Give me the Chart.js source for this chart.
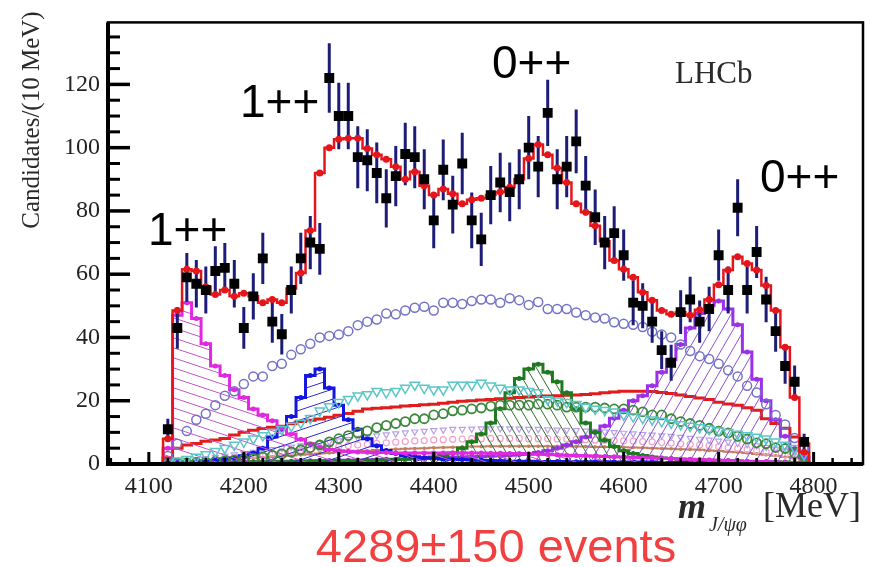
<!DOCTYPE html>
<html>
<head>
<meta charset="utf-8">
<script src="https://cdn.jsdelivr.net/npm/chart.js@4/dist/chart.umd.min.js"></script>
<style>
  html, body { margin: 0; padding: 0; background: #fff; }
  canvas { display: block; }
</style>
</head>
<body>
<canvas id="jpsiphi" width="871" height="567"></canvas>
<script>
// bin centres, 10 MeV bins
const mass = [4120,4130,4140,4150,4160,4170,4180,4190,4200,4210,
  4220,4230,4240,4250,4260,4270,4280,4290,4300,4310,
  4320,4330,4340,4350,4360,4370,4380,4390,4400,4410,
  4420,4430,4440,4450,4460,4470,4480,4490,4500,4510,
  4520,4530,4540,4550,4560,4570,4580,4590,4600,4610,
  4620,4630,4640,4650,4660,4670,4680,4690,4700,4710,
  4720,4730,4740,4750,4760,4770,4780,4790];

const counts = [11,43,59,57,55,61,62,57,43,53,
  65,45,41,55,65,70,68,122,110,110,
  97,96,92,84,91,98,97,90,77,93,
  82,95,77,71,85,89,86,90,100,94,
  111,90,94,102,88,78,70,73,66,51,
  50,45,36,32,48,52,45,49,66,55,
  81,55,67,52,42,31,26,7];

const errs = [3.3,6.6,7.7,7.5,7.4,7.8,7.9,7.5,6.6,7.3,
  8.1,6.7,6.4,7.4,8.1,8.4,8.2,11.0,10.5,10.5,
  9.8,9.8,9.6,9.2,9.5,9.9,9.8,9.5,8.8,9.6,
  9.1,9.7,8.8,8.4,9.2,9.4,9.3,9.5,10.0,9.7,
  10.5,9.5,9.7,10.1,9.4,8.8,8.4,8.5,8.1,7.1,
  7.1,6.7,6.0,5.7,6.9,7.2,6.7,7.0,8.1,7.4,
  9.0,7.4,8.2,7.2,6.5,5.6,5.1,2.6];

const totalFit = [8,48.5,61.6,61,56,53.6,55,53,54,53,
  51,52,51,55.5,60.4,73.8,92,100,102.7,103,
  103,99.7,97.8,96.3,94,90,92.4,88,85,86.9,
  85.4,82.3,83.5,84,85,86,87.5,90,96.6,101,
  97.8,93.6,89,82.3,79.6,75.3,70.4,64.3,61.6,59,
  54.3,51.8,48.5,47.3,48,47,48.8,52,56.7,61.3,
  65.5,63.4,61.3,56.4,48.5,36.9,21,3.7];

// X(4140) 1++
const x4140 = [5,47,51,46,38,31,28,23.5,21,17.4,
  15.5,13.7,11.3,9.5,7.8,6.4,5.3,4.6,4.2,4.0,
  3.8,3.7,3.6,3.6,3.5,3.5,3.5,3.5,3.5,3.5,
  3.5,3.5,3.5,3.5,3.4,3.4,3.3,3.3,3.2,3.1,
  3.0,2.9,2.8,2.7,2.6,2.5,2.4,2.3,2.2,2.1,
  2.0,1.9,1.8,1.7,1.6,1.5,1.4,1.3,1.2,1.1,
  1.0,0.9,0.8,0.7,0.6,0.5,0.4,0.3];

// X(4274) 1++
const x4274 = [0.3,0.4,0.5,0.7,0.9,1.2,1.6,2.0,2.6,3.5,
  5.0,8.5,11,15,21,28,30,24,18.6,14,
  11,8,5.8,4.3,3.3,2.7,2.3,2.0,1.8,1.6,
  1.5,1.4,1.3,1.2,1.1,1.0,0.9,0.9,0.9,0.8,
  0.8,0.8,0.8,0.7,0.7,0.7,0.7,0.6,0.6,0.6,
  0.6,0.6,0.5,0.5,0.5,0.5,0.5,0.5,0.4,0.4,
  0.4,0.4,0.4,0.4,0.3,0.3,0.3,0.3];

// X(4500) 0++
const x4500 = [0.3,0.3,0.3,0.4,0.4,0.4,0.5,0.5,0.5,0.6,
  0.6,0.6,0.7,0.7,0.7,0.8,0.8,0.9,0.9,1.0,
  1.0,1.1,1.2,1.3,1.4,1.5,1.7,1.9,2.2,2.8,
  3.5,5,7,9.5,13,17.5,22.5,27,30,31.5,
  29,26,22.5,17.5,13,10,7.5,5.5,4.2,3.3,
  2.7,2.2,1.9,1.7,1.5,1.4,1.3,1.2,1.1,1.0,
  0.9,0.8,0.8,0.7,0.6,0.6,0.5,0.4];

// X(4700) 0++
const x4700 = [0.3,0.3,0.4,0.4,0.5,0.5,0.6,0.6,0.7,0.7,
  0.8,0.8,0.9,0.9,1.0,1.0,1.1,1.1,1.2,1.2,
  1.3,1.3,1.4,1.5,1.5,1.6,1.7,1.8,1.9,2.0,
  2.1,2.2,2.3,2.4,2.5,2.6,2.8,3.0,3.2,3.6,
  4.2,5,6,7,8.5,10,12,14.5,17,20,
  21.6,24.7,29,33,37.8,43,47.6,50,51.5,49,
  44,35.4,26.8,20,14,8.8,4.9,2];

// non-resonant (open circles)
const nonRes = [2.5,6.4,10.4,14,15.9,18.6,21.6,23,25.3,27.7,
  27.7,31,31.7,34.5,36.3,38,40,40.5,40.9,42,
  43.9,45,45.7,47.6,47.3,48.5,49.4,49.7,48.5,51,
  51,50.6,51.5,52,52,51,52.4,51.8,50.3,51.2,
  49,49,49,47.9,47,46.3,46,44.8,44.3,44,
  43.3,41.8,40.9,40,37.8,35.7,34.1,33.2,31.7,29.6,
  27.7,24.7,22.6,18.9,15.5,12.5,8.2,4.9];

// open triangles
const triCyan = [0.5,1,1.5,2.2,3,4,5,6,7,8,
  9,10,11,12,13,14.5,16.8,18.2,19.5,20.5,
  21.6,22,23,22.6,23,24,25,24,23.5,23.5,
  25,25,25,25.6,24.7,24,23.5,23.5,23,22.6,
  20.4,20,19.5,18.9,18,17.4,17,16.5,15.5,15,
  14.5,14,13.5,13,12.5,12,11.5,11,10.5,10,
  9.5,9,8.5,8,7,6,5,3];

// smooth red component
const redComp = [2,5,6,6.5,7.2,7.6,8.1,9.2,10,10.7,
  11.2,11.6,11.9,12.7,13.4,13.8,14.2,14.8,15.4,16,
  16.7,17.4,17.6,17.8,18,18.3,18.5,18.7,18.9,19.2,
  19.5,19.8,20,20.2,20.4,20.6,20.8,21,21.2,21.3,
  21.5,21.6,21.7,21.8,22,22.2,22.5,22.8,23,23,
  23,22.9,22.6,22.3,21.8,21.3,20.9,20.4,19.5,19,
  18.6,17.8,17,14.3,12.8,11.3,8.5,6.4];

// green open circles
const greenCirc = [0.2,0.3,0.4,0.5,0.6,0.8,1,1.2,1.5,1.8,
  2.2,2.7,3.2,3.8,4.5,5.2,6,7,8,9,
  9.8,10.5,11.5,12.2,12.8,13.4,14.3,14.3,15.5,15.9,
  16.8,17,17.4,17.7,18.3,18.6,18.6,18.6,18.6,18.9,
  18.9,18.6,18,18,18,18,17.7,17.4,17.4,17,
  16.5,15.5,15.5,14.3,13.4,12.8,12.2,11.3,10.4,9.8,
  8.8,7.9,6.7,6.4,5.2,4.9,3.4,2.5];

// small components near the baseline
const lavTri = [0.3,0.6,1,1.4,1.8,2.2,2.6,3,3.4,3.8,
  4.2,4.6,5,5.4,5.8,6.2,6.6,7,7.4,7.8,
  8.2,8.6,9,9.3,9.6,9.9,10.2,10.4,10.6,10.8,
  11,11,11.1,11.2,11.2,11.2,11.2,11.1,11,11,
  10.9,10.8,10.7,10.6,10.5,10.4,10.2,10,9.8,9.6,
  9.4,9.2,9,8.8,8.5,8.2,7.9,7.6,7.3,7,
  6.6,6.2,5.8,5.3,4.8,4.2,3.5,2.5];

const pinkCirc = [0.2,0.4,0.7,1,1.3,1.6,1.9,2.2,2.5,2.8,
  3.1,3.4,3.7,4,4.3,4.6,4.9,5.2,5.5,5.8,
  6,6.2,6.5,6.7,6.9,7.1,7.3,7.4,7.6,7.7,
  7.8,7.9,8,8,8.1,8.1,8.1,8.1,8,8,
  8,7.9,7.9,7.8,7.7,7.6,7.5,7.4,7.3,7.2,
  7.1,7,6.8,6.6,6.4,6.2,6,5.8,5.5,5.2,
  4.9,4.6,4.2,3.8,3.4,2.9,2.3,1.5];

const brownComp = [0.2,0.3,0.5,0.7,0.9,1.1,1.3,1.5,1.7,1.9,
  2.1,2.3,2.5,2.7,2.9,3.1,3.3,3.5,3.7,3.9,
  4,4.2,4.4,4.5,4.7,4.8,4.9,5,5.1,5.2,
  5.3,5.4,5.5,5.5,5.6,5.6,5.6,5.6,5.6,5.6,
  5.6,5.6,5.5,5.5,5.5,5.4,5.4,5.3,5.3,5.2,
  5.1,5,4.9,4.8,4.7,4.6,4.5,4.3,4.1,3.9,
  3.7,3.5,3.2,2.9,2.6,2.2,1.8,1.2];

const xTicks = [4100, 4200, 4300, 4400, 4500, 4600, 4700, 4800];
const yTicks = [0, 20, 40, 60, 80, 100, 120];
const X_MIN = 4057, X_MAX = 4852, Y_MAX = 139.6;
const EDGE_LO = 4110, EDGE_HI = 4800;

const canvas = document.getElementById('jpsiphi');
const mainCtx = canvas.getContext('2d');

// diagonal line hatching; w = horizontal spacing, h = vertical spacing
function hatch(color, w, h, up) {
  const c = document.createElement('canvas');
  c.width = w; c.height = h;
  const g = c.getContext('2d');
  g.strokeStyle = color;
  g.lineWidth = 1;
  for (const off of [-h, 0, h]) {
    g.beginPath();
    if (up) { g.moveTo(-1, off + h + h / w); g.lineTo(w + 1, off - h / w); }
    else { g.moveTo(-1, off - h / w); g.lineTo(w + 1, off + h + h / w); }
    g.stroke();
  }
  return mainCtx.createPattern(c, 'repeat');
}

function pts(vals) {
  return mass.map((m, i) => ({ x: m, y: vals[i] }));
}
function hist(vals) {
  return [{ x: EDGE_LO, y: 0 }, ...pts(vals), { x: EDGE_HI, y: 0 }];
}
const last = mass.length + 1;
const edgeRadius = r => (c => (c.dataIndex === 0 || c.dataIndex === last) ? 0 : r);

function histSet(vals, color, width, r, fillPattern) {
  return {
    data: hist(vals),
    borderColor: color,
    borderWidth: width,
    stepped: 'middle',
    fill: fillPattern ? 'origin' : false,
    backgroundColor: fillPattern || 'transparent',
    pointRadius: edgeRadius(r),
    pointBackgroundColor: color,
    pointBorderWidth: 0
  };
}
function markerSet(vals, color, style, r, rot, bw) {
  return {
    data: pts(vals),
    showLine: false,
    pointStyle: style,
    pointRadius: r,
    pointRotation: rot,
    pointBorderColor: color,
    pointBackgroundColor: 'transparent',
    pointBorderWidth: bw
  };
}

const errorBars = {
  id: 'errorBars',
  beforeDatasetDraw(chart, args) {
    if (args.index !== 1) return;
    const { ctx, chartArea: a, scales: { x, y } } = chart;
    ctx.save();
    ctx.beginPath();
    ctx.rect(a.left, a.top, a.width, a.height);
    ctx.clip();
    ctx.strokeStyle = '#1d1d78';
    ctx.lineWidth = 3;
    mass.forEach((m, i) => {
      const px = x.getPixelForValue(m);
      ctx.beginPath();
      ctx.moveTo(px, y.getPixelForValue(counts[i] - errs[i]));
      ctx.lineTo(px, y.getPixelForValue(counts[i] + errs[i]));
      ctx.stroke();
    });
    ctx.restore();
  }
};

const frame = {
  id: 'frame',
  afterDraw(chart) {
    const { ctx, chartArea: a, scales: { x, y } } = chart;
    ctx.save();
    ctx.strokeStyle = '#000';
    for (let v = 0; v <= Y_MAX; v += 5) {
      const py = y.getPixelForValue(v);
      const major = v % 20 === 0;
      ctx.lineWidth = major ? 3.5 : 3;
      ctx.beginPath();
      ctx.moveTo(a.left, py);
      ctx.lineTo(a.left + (major ? 22 : 12), py);
      ctx.stroke();
    }
    for (let v = 4060; v <= X_MAX; v += 20) {
      const px = x.getPixelForValue(v);
      const major = v % 100 === 0;
      ctx.lineWidth = major ? 3 : 2.5;
      ctx.beginPath();
      ctx.moveTo(px, a.bottom);
      ctx.lineTo(px, a.bottom - (major ? 12 : 6));
      ctx.stroke();
    }
    ctx.lineWidth = 2.5;
    ctx.strokeRect(a.left, a.top, a.right - a.left, a.bottom - a.top);
    ctx.lineWidth = 4;
    ctx.beginPath();
    ctx.moveTo(a.left, a.top);
    ctx.lineTo(a.left, a.bottom);
    ctx.lineTo(a.right, a.bottom);
    ctx.stroke();

    // axis titles
    ctx.fillStyle = '#2a2a2a';
    ctx.save();
    ctx.translate(32, 120);
    ctx.rotate(-Math.PI / 2);
    ctx.font = '25px "Liberation Serif"';
    ctx.textAlign = 'center';
    ctx.textBaseline = 'middle';
    ctx.fillText('Candidates/(10 MeV)', 0, 0);
    ctx.restore();

    ctx.textAlign = 'left';
    ctx.textBaseline = 'alphabetic';
    ctx.font = 'italic bold 36px "Liberation Serif"';
    ctx.fillText('m', 678, 518);
    ctx.font = 'italic 20px "Liberation Serif"';
    ctx.fillText('J/\u03c8\u03c6', 709, 531);
    ctx.font = '36px "Liberation Serif"';
    ctx.fillText('[MeV]', 763, 517);

    ctx.font = '31px "Liberation Serif"';
    ctx.fillText('LHCb', 675, 83);

    // spin-parity labels
    ctx.fillStyle = '#000';
    ctx.font = '46px "Liberation Sans"';
    ctx.fillText('1++', 148, 245);
    ctx.fillText('1++', 240, 117);
    ctx.fillText('0++', 492, 78);
    ctx.fillText('0++', 760, 192);

    ctx.fillStyle = '#f23f3f';
    ctx.font = '47px "Liberation Sans"';
    ctx.textAlign = 'center';
    ctx.fillText('4289\u00b1150 events', 496, 562);
    ctx.restore();
  }
};

const tickFont = { family: 'Liberation Serif', size: 24 };

new Chart(mainCtx, {
  type: 'line',
  data: {
    datasets: [
      {
        data: pts(counts),
        showLine: false,
        pointStyle: 'rect',
        pointRadius: 7,
        pointBackgroundColor: '#000',
        pointBorderWidth: 0
      },
      histSet(totalFit, '#e4161b', 2.5, 3.5, null),
      markerSet(nonRes, '#7272c8', 'circle', 4.5, 0, 1.5),
      markerSet(triCyan, '#5cc6c8', 'triangle', 5.5, 180, 1.5),
      markerSet(greenCirc, '#3b873b', 'circle', 4.5, 0, 1.8),
      histSet(x4140, '#e028e0', 3, 2.5, hatch('#d050d0', 30, 10, false)),
      histSet(x4274, '#1515e0', 3, 2.5, hatch('#3030c0', 30, 10, true)),
      histSet(x4500, '#1e7a1e', 3, 2.5, hatch('#2e6e2e', 10, 17, false)),
      histSet(x4700, '#9a30e8', 3, 2.5, hatch('#8a50d8', 11, 19, true)),
      histSet(redComp, '#e01c1c', 3, 0, null),
      markerSet(lavTri, '#b8a0e8', 'triangle', 3.5, 180, 1.2),
      markerSet(pinkCirc, '#f0a0c8', 'circle', 3, 0, 1.2),
      histSet(brownComp, '#c08060', 2, 1.8, null)
    ]
  },
  options: {
    responsive: false,
    animation: false,
    events: [],
    layout: { padding: { top: 6, right: 8, left: 0, bottom: 0 } },
    plugins: { legend: { display: false }, tooltip: { enabled: false } },
    scales: {
      x: {
        type: 'linear',
        min: X_MIN,
        max: X_MAX,
        afterFit(s) { s.height = 103; },
        afterBuildTicks(s) { s.ticks = xTicks.map(v => ({ value: v })); },
        ticks: { font: tickFont, color: '#222', padding: 8, maxRotation: 0, autoSkip: false, callback: v => String(v) },
        grid: { display: false, drawTicks: false },
        border: { display: false }
      },
      y: {
        min: 0,
        max: Y_MAX,
        afterFit(s) { s.width = 108; },
        afterBuildTicks(s) { s.ticks = yTicks.map(v => ({ value: v })); },
        ticks: { font: tickFont, color: '#222', padding: 8, callback: v => String(v) },
        grid: { display: false, drawTicks: false },
        border: { display: false }
      }
    }
  },
  plugins: [errorBars, frame]
});
</script>
</body>
</html>
